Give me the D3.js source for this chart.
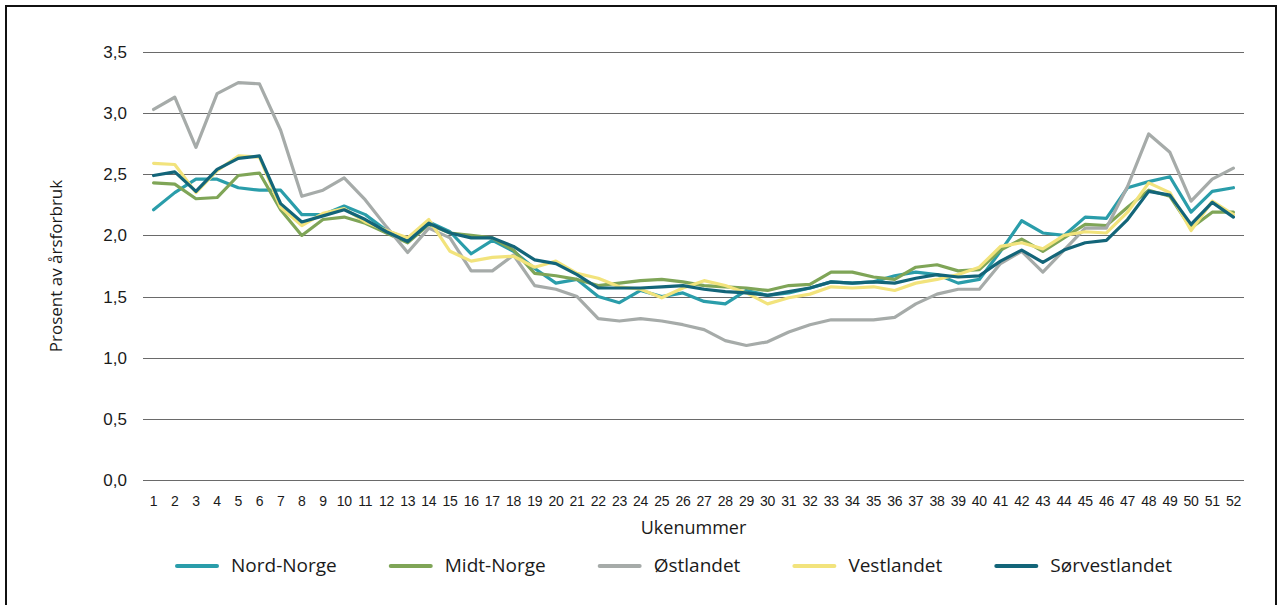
<!DOCTYPE html>
<html>
<head>
<meta charset="utf-8">
<script src="https://cdn.jsdelivr.net/npm/d3@7"></script>
<style>
  html, body { margin: 0; padding: 0; background: #fff; }
  svg { display: block; font-family: "Open Sans", "Noto Sans", sans-serif; }
</style>
</head>
<body>
<svg id="chart" width="1279" height="605"></svg>
<script>
const weeks = d3.range(1, 53);
const seriesNames = ["Nord-Norge", "Midt-Norge", "Østlandet", "Vestlandet", "Sørvestlandet"];
const seriesColors = ["#2a9daa", "#7fa557", "#a6aba9", "#f2e37c", "#136579"];

const nordNorge = [2.21,2.35,2.46,2.46,2.39,2.37,2.37,2.17,2.17,2.24,
  2.17,2.04,1.97,2.11,2.03,1.85,1.96,1.87,1.73,1.61,
  1.64,1.50,1.45,1.55,1.50,1.53,1.46,1.44,1.55,1.51,
  1.53,1.57,1.62,1.61,1.62,1.67,1.70,1.68,1.61,1.64,
  1.87,2.12,2.02,2.00,2.15,2.14,2.39,2.44,2.48,2.19,
  2.36,2.39];
const midtNorge = [2.43,2.42,2.30,2.31,2.49,2.51,2.21,2.00,2.13,2.15,
  2.10,2.02,1.94,2.09,2.02,2.00,1.98,1.88,1.69,1.67,
  1.64,1.59,1.61,1.63,1.64,1.62,1.59,1.58,1.57,1.55,
  1.59,1.60,1.70,1.70,1.66,1.64,1.74,1.76,1.71,1.72,
  1.88,1.97,1.87,1.98,2.09,2.08,2.23,2.37,2.32,2.06,
  2.19,2.19];
const ostlandet = [3.03,3.13,2.72,3.16,3.25,3.24,2.86,2.32,2.37,2.47,
  2.29,2.07,1.86,2.06,1.98,1.71,1.71,1.84,1.59,1.56,
  1.50,1.32,1.30,1.32,1.30,1.27,1.23,1.14,1.10,1.13,
  1.21,1.27,1.31,1.31,1.31,1.33,1.44,1.52,1.56,1.56,
  1.77,1.87,1.70,1.88,2.06,2.06,2.40,2.83,2.68,2.28,
  2.46,2.55];
const vestlandet = [2.59,2.58,2.35,2.53,2.65,2.64,2.23,2.08,2.18,2.22,
  2.11,2.04,1.98,2.13,1.87,1.79,1.82,1.83,1.74,1.79,
  1.69,1.65,1.58,1.56,1.49,1.57,1.63,1.59,1.53,1.44,
  1.49,1.52,1.58,1.57,1.58,1.55,1.61,1.64,1.68,1.74,
  1.91,1.94,1.89,2.00,2.03,2.02,2.19,2.43,2.35,2.04,
  2.28,2.17];
const sorvestlandet = [2.49,2.52,2.36,2.54,2.63,2.65,2.26,2.11,2.16,2.21,
  2.13,2.03,1.95,2.10,2.02,1.98,1.98,1.91,1.80,1.77,
  1.68,1.57,1.57,1.57,1.58,1.59,1.56,1.54,1.53,1.51,
  1.54,1.57,1.62,1.61,1.62,1.61,1.65,1.68,1.66,1.67,
  1.79,1.88,1.78,1.88,1.94,1.96,2.13,2.36,2.33,2.09,
  2.27,2.15];
const yTicks = [0, 0.5, 1.0, 1.5, 2.0, 2.5, 3.0, 3.5];
const yTitle = "Prosent av årsforbruk";
const xTitle = "Ukenummer";

const seriesValues = [nordNorge, midtNorge, ostlandet, vestlandet, sorvestlandet];

(function () {
const svg = d3.select("#chart");
const pLeft = 143, pRight = 1244, pTop = 52, pBottom = 480;

// frame
svg.append("rect").attr("x", 6).attr("y", 6).attr("width", 1270).attr("height", 610)
  .attr("fill", "none").attr("stroke", "#111").attr("stroke-width", 2);

const x = d3.scaleBand().domain(weeks).range([pLeft, pRight]).padding(0);
const y = d3.scaleLinear().domain([0, 3.5]).range([pBottom, pTop]);
const loc = d3.formatLocale({decimal: ",", thousands: " ", grouping: [3], currency: ["", " kr"]});
const fmt = loc.format(".1f");

// y axis with gridlines
const yAxis = svg.append("g").attr("transform", `translate(${pLeft},0)`)
  .call(d3.axisLeft(y).tickValues(yTicks).tickFormat(fmt).tickSize(-(pRight - pLeft)).tickPadding(16));
yAxis.select(".domain").remove();
yAxis.selectAll(".tick line").attr("stroke", "#6a6a6a").attr("stroke-width", 1).attr("shape-rendering", "crispEdges");
yAxis.selectAll(".tick text").attr("font-size", 17).attr("fill", "#1a1a1a");

// x axis
const xAxis = svg.append("g").attr("transform", `translate(0,${pBottom})`)
  .call(d3.axisBottom(x).tickSize(0).tickPadding(16));
xAxis.select(".domain").remove();
xAxis.selectAll(".tick text").attr("font-size", 14).attr("fill", "#1a1a1a").attr("letter-spacing", "-0.3px");

// titles
svg.append("text").attr("transform", `translate(62,${(pTop + pBottom) / 2}) rotate(-90)`)
  .attr("text-anchor", "middle").attr("font-size", 17).attr("fill", "#1a1a1a").text(yTitle);
svg.append("text").attr("x", (pLeft + pRight) / 2).attr("y", 534)
  .attr("text-anchor", "middle").attr("font-size", 18).attr("fill", "#1a1a1a").text(xTitle);

// lines
const line = d3.line().x((d, i) => x(weeks[i]) + x.bandwidth() / 2).y(d => y(d));
seriesValues.forEach((vals, si) => {
  svg.append("path").datum(vals).attr("d", line)
    .attr("fill", "none").attr("stroke", seriesColors[si]).attr("stroke-width", 3.2)
    .attr("stroke-linejoin", "round").attr("stroke-linecap", "round");
});

// legend (layout: item starts spread across the bottom)
const legendStart = 177, legendEnd = 1172;
const ly = 566;
const items = seriesNames.map((name, si) => {
  const g = svg.append("g");
  const t = g.append("text").attr("y", ly + 6).attr("font-size", 19)
    .attr("fill", "#1a1a1a").text(name);
  return {g, t, w: t.node().getComputedTextLength(), si};
});
const totalW = d3.sum(items, d => 54 + d.w);
const gap = (legendEnd - legendStart - totalW) / (items.length - 1);
let lx = legendStart;
items.forEach(d => {
  d.g.insert("line", "text").attr("x1", lx).attr("x2", lx + 40).attr("y1", ly).attr("y2", ly)
    .attr("stroke", seriesColors[d.si]).attr("stroke-width", 4).attr("stroke-linecap", "round");
  d.t.attr("x", lx + 54);
  lx += 54 + d.w + gap;
});
})();
</script>
</body>
</html>
